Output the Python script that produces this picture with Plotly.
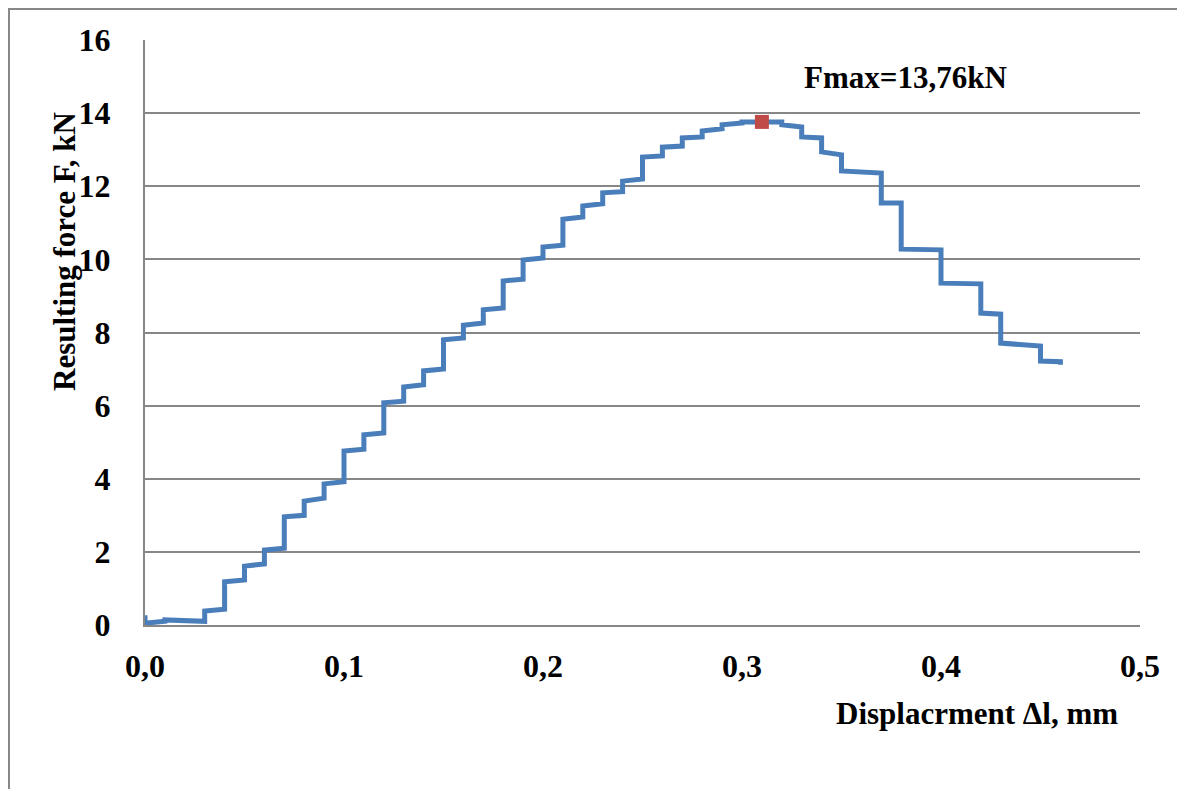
import plotly.graph_objects as go

# ---- data ----
start_f = 0.27
step_x = [0.00, 0.01, 0.03, 0.04, 0.05, 0.06, 0.07, 0.08, 0.09, 0.10, 0.11, 0.12, 0.13, 0.14,
          0.15, 0.16, 0.17, 0.18, 0.19, 0.20, 0.21, 0.22, 0.23, 0.24, 0.25, 0.26, 0.27, 0.28,
          0.29, 0.30, 0.32, 0.33, 0.34, 0.35, 0.37, 0.38, 0.40, 0.42, 0.43, 0.45]
f_start = [0.05, 0.14, 0.38, 1.18, 1.61, 2.05, 2.96, 3.39, 3.86, 4.76, 5.20, 6.08, 6.51, 6.95,
           7.80, 8.20, 8.62, 9.41, 9.98, 10.34, 11.10, 11.46, 11.82, 12.14, 12.80, 13.07, 13.32, 13.51,
           13.68, 13.76, 13.68, 13.35, 12.94, 12.42, 11.54, 10.28, 9.35, 8.53, 7.71, 7.22]
f_end = [0.10, 0.10, 0.43, 1.23, 1.67, 2.10, 3.00, 3.47, 3.92, 4.81, 5.25, 6.12, 6.57, 7.00,
         7.85, 8.26, 8.67, 9.46, 10.04, 10.39, 11.16, 11.52, 11.85, 12.20, 12.83, 13.10, 13.35, 13.57,
         13.73, 13.76, 13.62, 13.32, 12.86, 12.36, 11.54, 10.26, 9.33, 8.50, 7.63, 7.20]
end_x = 0.46
final_f = 7.12

peak_x = [0.31]
peak_f = [13.76]

x_ticks = [0.0, 0.1, 0.2, 0.3, 0.4, 0.5]
x_labels = ["0,0", "0,1", "0,2", "0,3", "0,4", "0,5"]
y_ticks = [0, 2, 4, 6, 8, 10, 12, 14, 16]

# ---- build step curve ----
xs = [step_x[0]]
ys = [start_f]
for i, sx in enumerate(step_x):
    nx = step_x[i + 1] if i + 1 < len(step_x) else end_x
    xs += [sx, nx]
    ys += [f_start[i], f_end[i]]
xs.append(end_x)
ys.append(final_f)

BLUE = "#4A7EBB"
RED = "#BE4B48"
GRID = "#878787"
FONT = "Liberation Serif"

fig = go.Figure()
fig.add_trace(go.Scatter(x=xs, y=ys, mode="lines",
                         line=dict(color=BLUE, width=5), showlegend=False,
                         hoverinfo="skip"))
fig.add_trace(go.Scatter(x=peak_x, y=peak_f, mode="markers",
                         marker=dict(symbol="square", size=14, color=RED,
                                     line=dict(color=RED, width=0)),
                         showlegend=False))

W, H = 1185, 789
OFF = 8  # page body margin
# target plot area in the screenshot: x 145..1140, y 40..625
PL, PR, PT, PB = 145, 1140, 40, 625
L = PL - OFF
T = PT - OFF
pw, ph = PR - PL, PB - PT
R = W - L - pw
B = H - T - ph

def px(xp):
    return (xp - PL) / pw

def py(yp):
    return (PB - yp) / ph

fig.update_layout(
    width=W, height=H,
    margin=dict(l=L, r=R, t=T, b=B),
    paper_bgcolor="white", plot_bgcolor="white",
    font=dict(family=FONT, size=31, color="black"),
    xaxis=dict(range=[0, 0.5], tickvals=x_ticks, ticktext=x_labels,
               showgrid=False, zeroline=False, showline=True,
               linecolor=GRID, linewidth=2, ticks="",
               tickfont=dict(family=FONT, size=32, color="black", weight="bold"),
               ticklabelstandoff=12, fixedrange=True),
    yaxis=dict(range=[0, 16], tickvals=y_ticks,
               showgrid=True, gridcolor=GRID, gridwidth=2,
               zeroline=False, showline=True, linecolor=GRID, linewidth=2, ticks="",
               tickfont=dict(family=FONT, size=32, color="black", weight="bold"),
               ticklabelstandoff=26, fixedrange=True),
    shapes=[dict(type="rect", xref="paper", yref="paper",
                 x0=px(OFF + 1), x1=px(1300), y0=py(900), y1=py(OFF + 1),
                 line=dict(color=GRID, width=2), layer="below")],
    annotations=[
        dict(text="<b>Fmax=13,76kN</b>", xref="paper", yref="paper",
             x=px(905), y=py(77), xanchor="center", yanchor="middle",
             showarrow=False, font=dict(family=FONT, size=31, color="black")),
        dict(text="<b>Displacrment Δl, mm</b>", xref="paper", yref="paper",
             x=px(977), y=py(713), xanchor="center", yanchor="middle",
             showarrow=False, font=dict(family=FONT, size=31, color="black")),
        dict(text="<b>Resulting force F, kN</b>", xref="paper", yref="paper",
             x=px(64), y=py(252), xanchor="center", yanchor="middle", textangle=-90,
             showarrow=False, font=dict(family=FONT, size=31, color="black")),
    ],
)

fig.write_html("out.html")
